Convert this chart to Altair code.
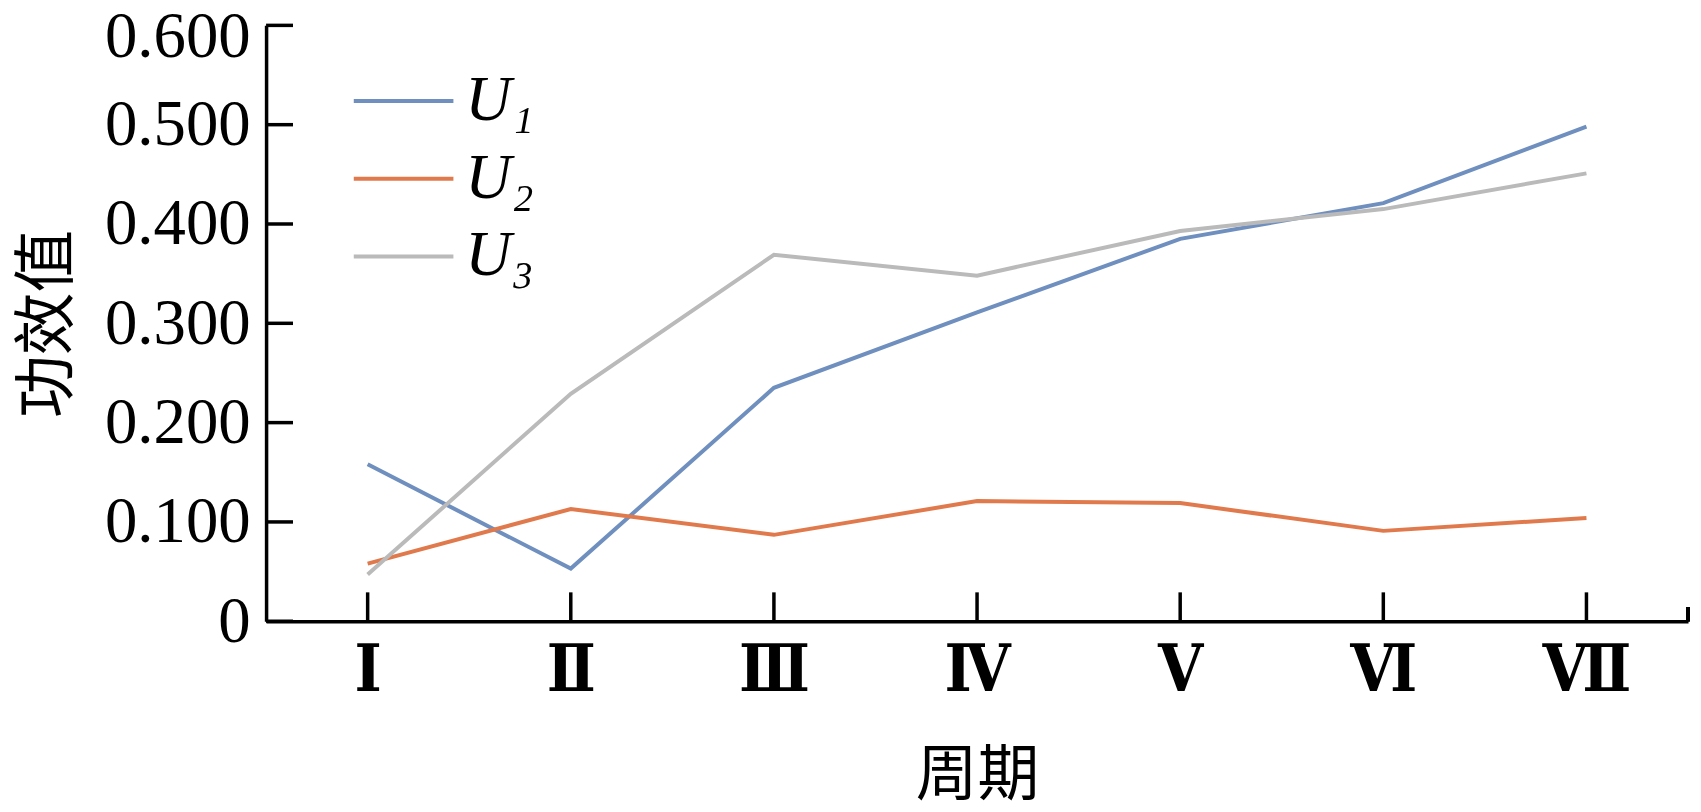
import altair as alt
import pandas as pd

periods = ["Ⅰ", "Ⅱ", "Ⅲ", "Ⅳ", "Ⅴ", "Ⅵ", "Ⅶ"]
u1 = [0.158, 0.053, 0.235, 0.311, 0.385, 0.421, 0.498]
u2 = [0.058, 0.113, 0.087, 0.121, 0.119, 0.091, 0.104]
u3 = [0.047, 0.229, 0.369, 0.348, 0.393, 0.415, 0.451]
series_names = ["U₁", "U₂", "U₃"]
colors = ["#6f8fbf", "#e07a4c", "#bababa"]
y_ticks = [0, 0.1, 0.2, 0.3, 0.4, 0.5, 0.6]

rows = []
for name, vals in zip(series_names, [u1, u2, u3]):
    for p, v in zip(periods, vals):
        rows.append({"period": p, "value": v, "series": name})
df = pd.DataFrame(rows)
yt = pd.DataFrame({"value": y_ticks})
xt = pd.DataFrame({"period": periods})

W, H = 1427, 598
SERIF = "Liberation Serif, DejaVu Serif, Noto Sans CJK SC"
ROMAN = "DejaVu Serif Condensed, Noto Sans CJK SC"
CJK = "Noto Sans CJK SC"
AXW = 3.5

xscale = alt.Scale(type="point", domain=periods, padding=0.5)
yscale = alt.Scale(domain=[0, 0.6], nice=False, zero=True)

xaxis = alt.Axis(title="周期", titleFont=CJK, titleFontSize=62,
                 titleFontWeight="normal", titleColor="black",
                 titlePadding=43,
                 labelFont=ROMAN, labelFontSize=65, labelFontWeight="bold",
                 labelColor="black",
                 labelAngle=0, labelPadding=18, ticks=False,
                 domainColor="black", domainWidth=AXW, grid=False)
yaxis = alt.Axis(values=y_ticks,
                 labelExpr="datum.value == 0 ? '0' : format(datum.value, '.3f')",
                 title="功效值", titleFont=CJK, titleFontSize=63,
                 titleFontWeight="normal", titleColor="black",
                 titlePadding=25,
                 labelFont=SERIF, labelFontSize=65, labelColor="black",
                 labelPadding=16, labelFlush=False, labelOverlap=False,
                 labelOffset={"condition": {"test": "datum.value >= 0.6", "value": 11}, "value": 0},
                 ticks=False, domainColor="black", domainWidth=AXW,
                 grid=False)

lines = alt.Chart(df).mark_line(strokeWidth=4).encode(
    x=alt.X("period:N", sort=periods, scale=xscale, axis=xaxis),
    y=alt.Y("value:Q", scale=yscale, axis=yaxis),
    color=alt.Color("series:N", sort=series_names,
                    scale=alt.Scale(domain=series_names, range=colors),
                    legend=alt.Legend(title=None, orient="none", legendX=106, legendY=44,
                                      symbolType="M-2,0H2", symbolSize=2500,
                                      symbolStrokeWidth=4,
                                      labelFont=SERIF, labelFontStyle="italic",
                                      labelFontSize=64, labelColor="black",
                                      labelOffset=30, rowPadding=14)),
    order=alt.Order("series:N"),
)

yticks = alt.Chart(yt).mark_rule(color="black", strokeWidth=AXW).encode(
    y=alt.Y("value:Q", scale=yscale, axis=yaxis),
    x=alt.value(0),
    x2=alt.value(27),
)

xticks = alt.Chart(xt).mark_rule(color="black", strokeWidth=AXW).encode(
    x=alt.X("period:N", sort=periods, scale=xscale, axis=xaxis),
    y=alt.value(H),
    y2=alt.value(H - 29),
)

endtick = alt.Chart(xt).mark_rule(color="black", strokeWidth=AXW).encode(
    x=alt.value(W),
    y=alt.value(H),
    y2=alt.value(H - 14),
)

chart = alt.layer(lines, yticks, xticks, endtick).properties(
    width=W, height=H,
    padding={"left": 259, "top": 16, "right": 5, "bottom": 190},
    autosize=alt.AutoSizeParams(type="none"),
).configure_view(stroke=None)

chart.save("out.html", embed_options={"renderer": "svg", "actions": False})
